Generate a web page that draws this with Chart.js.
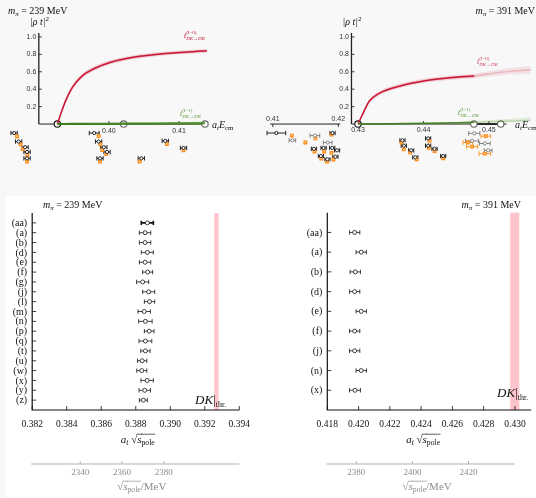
<!DOCTYPE html>
<html>
<head>
<meta charset="utf-8">
<title>DK scattering amplitudes and pole positions</title>
<script src="https://cdn.jsdelivr.net/npm/chart.js@4.4.1/dist/chart.umd.min.js"></script>
<style>
  html, body { margin: 0; padding: 0; background: #f8f8f8; }
  #fig { position: relative; width: 536px; height: 498px; overflow: hidden; background: #f8f8f8; }
  #sheet { position: absolute; left: 6px; top: 196px; width: 530px; height: 302px; background: #ffffff; }
  #fig canvas { position: absolute; }
</style>
</head>
<body>
<div id="fig">
  <div id="sheet"></div>
  <canvas id="ampL" width="262" height="196" style="left:0;top:0;width:262px;height:196px"></canvas>
  <canvas id="ampR" width="278" height="196" style="left:258px;top:0;width:278px;height:196px"></canvas>
  <canvas id="poleL" width="268" height="302" style="left:0;top:196px;width:268px;height:302px"></canvas>
  <canvas id="poleR" width="268" height="302" style="left:268px;top:196px;width:268px;height:302px"></canvas>
</div>
<script>
// ================= m_pi = 239 MeV : |rho t|^2 =================
const ecm239I0  = [0.39265, 0.39319, 0.39388, 0.39479, 0.39616, 0.39799, 0.40027, 0.40347, 0.40804, 0.41397];
const rt239I0   = [0, 0.13, 0.277, 0.42, 0.55, 0.64, 0.71, 0.766, 0.81, 0.84];
const rt239I0Err= [0.004, 0.022, 0.028, 0.028, 0.028, 0.027, 0.025, 0.023, 0.022, 0.022];
const ecm239I1  = [0.39265, 0.395, 0.400, 0.405, 0.410, 0.4137];
const rt239I1   = [0, 0.001, 0.003, 0.005, 0.007, 0.009];
const rt239I1Err= [0, 0.003, 0.005, 0.008, 0.014, 0.02];
const thresholds239 = [0.39265, 0.4021, 0.4137];

// finite-volume energy levels drawn beneath the axis (row = lattice irrep line)
const lev239E   = [0.38648, 0.38712, 0.38804, 0.38832, 0.38832, 0.3979, 0.39853, 0.39927, 0.39973, 0.39873, 0.40462, 0.40804, 0.41064];
const lev239Row = [0, 1.36, 2.27, 3.03, 4.05, 0, 1.36, 2.27, 3.03, 4.05, 4.05, 1.26, 2.38];
const lev239Err = [0.00045, 0.00045, 0.00045, 0.00045, 0.00045, 0.0007, 0.00045, 0.00045, 0.00045, 0.00045, 0.00045, 0.00045, 0.00045];
const fit239E   = [0.38689, 0.3874, 0.38771, 0.38836, 0.38832, 0.39853, 0.39877, 0.39904, 0.39963, 0.39873, 0.40438, 0.40826, 0.41064];
const fit239Row = [0.53, 1.82, 2.58, 3.48, 4.55, 0.5, 1.82, 2.73, 3.38, 4.55, 4.55, 1.77, 2.77];

// ================= m_pi = 391 MeV : |rho t|^2 =================
const ecm391I0  = [0.4300, 0.43071, 0.43169, 0.43316, 0.43659, 0.44003, 0.44394, 0.44776];
const rt391I0   = [0, 0.114, 0.259, 0.35, 0.44, 0.495, 0.53, 0.552];
const rt391I0Err= [0.004, 0.018, 0.024, 0.024, 0.024, 0.024, 0.024, 0.026];
const ecm391I0x = [0.44776, 0.4528, 0.4564];
const rt391I0x  = [0.552, 0.603, 0.622];
const rt391I0xErr = [0.026, 0.038, 0.048];
const ecm391I1  = [0.4300, 0.435, 0.440, 0.445, 0.44776];
const rt391I1   = [0, 0.003, 0.008, 0.014, 0.02];
const rt391I1Err= [0, 0.003, 0.006, 0.01, 0.013];
const ecm391I1x = [0.44776, 0.4528, 0.4564];
const rt391I1x  = [0.02, 0.032, 0.042];
const rt391I1xErr = [0.013, 0.025, 0.035];
const thresholds391 = [0.4300, 0.4477, 0.4518];

// levels in the 0.41 - 0.42 window (broken axis)
const lowLevE   = [0.41054, 0.41912, 0.41628, 0.41775, 0.41907, 0.41981, 0.41735, 0.41834, 0.41956];
const lowLevRow = [0, 0, 2.53, 2.38, 2.38, 2.77, 3.68, 4.2, 3.79];
const lowLevErr = [0.00143, 0.0004, 0.0004, 0.0004, 0.0004, 0.0004, 0.0004, 0.0004, 0.0004];
const lowGreyE  = [0.41299, 0.41643, 0.41838];
const lowGreyRow= [1.17, 0.41, 1.52];
const lowGreyErr= [0.0005, 0.00074, 0.00066];
const lowFitE   = [0.4129, 0.41496, 0.41651, 0.41897, 0.41637, 0.41784, 0.41897, 0.4174, 0.41828, 0.41926];
const lowFitRow = [0.41, 1.52, 0.86, 0.23, 2.95, 2.95, 3.18, 4.09, 4.55, 4.24];
// levels above threshold
const lev391E   = [0.43679, 0.43699, 0.43812, 0.43875, 0.44071, 0.44071, 0.44169, 0.44301];
const lev391Row = [1.17, 2.02, 2.77, 3.89, 0.86, 2.02, 2.53, 3.68];
const lev391Err = [0.0004, 0.0004, 0.0004, 0.0004, 0.0004, 0.0004, 0.0004, 0.0004];
const fit391E   = [0.43665, 0.43699, 0.43797, 0.43894, 0.44091, 0.44081, 0.44169, 0.44301];
const fit391Row = [1.56, 2.62, 3.14, 4.2, 1.26, 2.38, 2.88, 4.05];
const grey391E  = [0.44776, 0.44743, 0.44938, 0.44988];
const grey391Row= [0.05, 1.26, 1.67, 2.77];
const grey391Err= [0.00085, 0.00099, 0.00081, 0.00059];
const high391E  = [0.44953, 0.44679, 0.44743, 0.44938];
const high391Row= [0.5, 1.52, 2.17, 3.29];
const high391Err= [0.00074, 0.00074, 0.00085, 0.00088];

// axis ticks
const rtTicks = [0.2, 0.4, 0.6, 0.8, 1.0];
const ecmTicks239 = [0.40, 0.41];
const ecmTicks391 = [0.43, 0.44, 0.45];
const ecmTicksLow391 = [0.41, 0.42];

// ================= pole positions =================
const poleLabels239 = ['(aa)', '(a)', '(b)', '(d)', '(e)', '(f)', '(g)', '(j)', '(l)', '(m)', '(n)', '(p)', '(q)', '(t)', '(u)', '(w)', '(x)', '(y)', '(z)'];
const pole239    = [0.38867, 0.38854, 0.38854, 0.38867, 0.38854, 0.38869, 0.3884, 0.38875, 0.3888, 0.38849, 0.38856, 0.38878, 0.38856, 0.38856, 0.38837, 0.38835, 0.38866, 0.38852, 0.38844];
const pole239Err = [0.00035, 0.00033, 0.00033, 0.00035, 0.00033, 0.00029, 0.00035, 0.00035, 0.0003, 0.00036, 0.00039, 0.00028, 0.00037, 0.00027, 0.00027, 0.00029, 0.00036, 0.00033, 0.00023];
const dkThr239   = [0.39255, 0.3928];
const poleTicks239 = [0.382, 0.384, 0.386, 0.388, 0.390, 0.392, 0.394];
const mevTicks239  = [2340, 2360, 2380];

const poleLabels391 = ['(aa)', '(a)', '(b)', '(d)', '(e)', '(f)', '(j)', '(n)', '(x)'];
const pole391    = [0.41975, 0.42017, 0.41979, 0.41975, 0.42017, 0.41975, 0.41975, 0.42017, 0.41977];
const pole391Err = [0.00033, 0.00033, 0.00033, 0.00033, 0.00033, 0.00033, 0.00033, 0.00033, 0.00035];
const dkThr391   = [0.4297, 0.43028];
const poleTicks391 = [0.418, 0.420, 0.422, 0.424, 0.426, 0.428, 0.430];
const mevTicks391  = [2380, 2400, 2420];

// ================= drawing helpers =================
const SERIF = '"Liberation Serif", "DejaVu Serif", serif';
const SANS = '"Liberation Sans", "DejaVu Sans", sans-serif';
const RED = '#c8102e', GREEN = '#3d7d1c', ORANGE = '#ff8a12';

// small math-style text: parts {t, i: italic, s: scale, dy: baseline shift, k: stacked on previous, o: overline}
function rich(ctx, x, y, parts, size, align, color) {
  const font = p => (p.i ? 'italic ' : '') + (size * (p.s || 1)).toFixed(2) + 'px ' + (p.f || SERIF);
  let cx = 0, start = 0, width = 0;
  const laid = parts.map(p => {
    ctx.font = font(p);
    const w = ctx.measureText(p.t).width;
    let px;
    if (p.k) { px = start; width = Math.max(width, w); cx = start + width; }
    else { px = cx; start = cx; width = w; cx += w; }
    return { p, px, w };
  });
  const x0 = align === 'center' ? x - cx / 2 : align === 'right' ? x - cx : x;
  ctx.save();
  ctx.fillStyle = color || '#000';
  ctx.strokeStyle = color || '#000';
  ctx.textAlign = 'left';
  ctx.textBaseline = 'alphabetic';
  laid.forEach(({ p, px, w }) => {
    ctx.font = font(p);
    ctx.fillText(p.t, x0 + px, y + (p.dy || 0) * size);
    if (p.o) {
      ctx.lineWidth = Math.max(0.6, size * 0.06);
      ctx.beginPath();
      ctx.moveTo(x0 + px - 0.5, y - size * 0.8);
      ctx.lineTo(x0 + px + w + 0.5, y - size * 0.8);
      ctx.stroke();
    }
  });
  ctx.restore();
}
const mpiText = v => [{ t: 'm', i: 1 }, { t: 'π', i: 1, s: 0.7, dy: 0.22 }, { t: ' = ' + v + ' MeV' }];
const rhoT = [{ t: '|ρ t|', i: 1 }, { t: '2', s: 0.7, dy: -0.42 }];
const aEcm = [{ t: 'a', i: 1 }, { t: 't', i: 1, s: 0.7, dy: 0.22 }, { t: 'E', i: 1 }, { t: 'cm', s: 0.7, dy: 0.22 }];
const ampLabel = iso => [{ t: 't', i: 1 }, { t: '(I=' + iso + ')', s: 0.62, dy: -0.5 }, { t: 'DK→DK', i: 1, s: 0.62, dy: 0.3, k: 1 }];
const aSqrt = [{ t: 'a', i: 1 }, { t: 't', i: 1, s: 0.7, dy: 0.22 }, { t: ' √' }, { t: 's', i: 1, o: 1 }, { t: 'pole', s: 0.7, dy: 0.22, o: 1 }];
const sqrtMeV = [{ t: '√' }, { t: 's', i: 1, o: 1 }, { t: 'pole', s: 0.7, dy: 0.22, o: 1 }, { t: '/MeV' }];
const dkThrText = [{ t: 'DK', i: 1 }, { t: '|' }, { t: 'thr.', s: 0.62, dy: 0.2 }];

const pts = (xs, ys) => xs.map((x, i) => ({ x, y: ys[i] }));
const offset = (xs, ys, es, k) => xs.map((x, i) => ({ x, y: ys[i] + k * es[i] }));

function curve(xs, ys, color, w, xAxisID) {
  return { data: pts(xs, ys), borderColor: color, borderWidth: w, pointRadius: 0, fill: false,
           cubicInterpolationMode: 'monotone', xAxisID: xAxisID || 'x', yAxisID: 'y' };
}
function band(xs, ys, es, up, down, color) {
  return [
    { data: offset(xs, ys, es, up), borderWidth: 0, borderColor: 'rgba(0,0,0,0)', pointRadius: 0, fill: '+1',
      backgroundColor: color, cubicInterpolationMode: 'monotone', xAxisID: 'x', yAxisID: 'y' },
    { data: offset(xs, ys, es, -down), borderWidth: 0, borderColor: 'rgba(0,0,0,0)', pointRadius: 0, fill: false,
      cubicInterpolationMode: 'monotone', xAxisID: 'x', yAxisID: 'y' }
  ];
}
const STYLES = {
  black:  { pointStyle: 'circle', pointRadius: 1.6, borderColor: '#111', pointBackgroundColor: '#fff', pointBorderWidth: 0.9, barColor: '#111' },
  grey:   { pointStyle: 'circle', pointRadius: 1.6, borderColor: '#777', pointBackgroundColor: '#fff', pointBorderWidth: 0.9, barColor: '#777' },
  orange: { pointStyle: 'rect', pointRadius: 1.9, borderColor: ORANGE, pointBackgroundColor: '#ffd4a3', pointBorderWidth: 1.2, barColor: ORANGE }
};
function levels(xs, rows, errs, style, xAxisID) {
  const s = STYLES[style];
  return { data: pts(xs, rows), showLine: false, pointStyle: s.pointStyle, pointRadius: s.pointRadius,
           pointBorderColor: s.borderColor, pointBackgroundColor: s.pointBackgroundColor, pointBorderWidth: s.pointBorderWidth,
           errX: errs, barColor: s.barColor, cap: 2.2, xAxisID: xAxisID || 'x', yAxisID: 'yLev' };
}
function markers(xs, colors) {
  return { data: xs.map(x => ({ x, y: 0 })), showLine: false, pointStyle: 'circle', pointRadius: 3.2,
           pointBorderColor: colors, pointBackgroundColor: '#fff', pointBorderWidth: 1.1, xAxisID: 'x', yAxisID: 'y' };
}

// horizontal error bars, drawn under the markers
const errorBars = {
  id: 'errorBars',
  beforeDatasetsDraw(chart) {
    const ctx = chart.ctx;
    chart.data.datasets.forEach((ds, di) => {
      if (!ds.errX) return;
      const meta = chart.getDatasetMeta(di);
      const xs = chart.scales[ds.xAxisID || 'x'];
      ctx.save();
      ctx.strokeStyle = ds.barColor;
      meta.data.forEach((pt, i) => {
        const e = ds.errX[i];
        if (!e) return;
        const v = ds.data[i].x;
        const x1 = xs.getPixelForValue(v - e), x2 = xs.getPixelForValue(v + e), y = pt.y;
        const c = ds.cap || 2;
        ctx.lineWidth = (ds.barWidths && ds.barWidths[i]) || ds.barWidth || 0.9;
        ctx.beginPath();
        ctx.moveTo(x1, y); ctx.lineTo(x2, y);
        ctx.moveTo(x1, y - c); ctx.lineTo(x1, y + c);
        ctx.moveTo(x2, y - c); ctx.lineTo(x2, y + c);
        ctx.stroke();
      });
      ctx.restore();
    });
  }
};

function baseOptions(scales, padding) {
  return {
    responsive: false, animation: false, events: [],
    layout: { padding },
    plugins: { legend: { display: false }, tooltip: { enabled: false }, title: { display: false } },
    elements: { line: { tension: 0 } },
    scales
  };
}
const hidden = (extra) => Object.assign({ type: 'linear', display: false, grid: { display: false } }, extra);

// ================= upper left: m_pi = 239 MeV =================
const decorAmpL = {
  id: 'decorAmpL',
  beforeDatasetsDraw(chart) {
    const ctx = chart.ctx, X = v => chart.scales.x.getPixelForValue(v), Y = v => chart.scales.y.getPixelForValue(v);
    ctx.save();
    ctx.strokeStyle = '#222';
    ctx.lineWidth = 1.3;
    ctx.beginPath(); ctx.moveTo(X(0.39), Y(0)); ctx.lineTo(X(0.39), Y(1.045)); ctx.stroke();
    ctx.lineWidth = 1;
    ctx.beginPath(); ctx.moveTo(X(0.39), Y(0)); ctx.lineTo(X(thresholds239[2]), Y(0)); ctx.stroke();
    ctx.lineWidth = 0.9;
    rtTicks.forEach(t => { ctx.beginPath(); ctx.moveTo(X(0.39), Y(t)); ctx.lineTo(X(0.39) + 3, Y(t)); ctx.stroke(); });
    ecmTicks239.forEach(t => { ctx.beginPath(); ctx.moveTo(X(t), Y(0)); ctx.lineTo(X(t), Y(0) - 3); ctx.stroke(); });
    ctx.restore();
  },
  afterDraw(chart) {
    const ctx = chart.ctx, X = v => chart.scales.x.getPixelForValue(v), Y = v => chart.scales.y.getPixelForValue(v);
    ctx.save();
    ctx.fillStyle = '#333';
    ctx.font = '7px ' + SANS;
    ctx.textAlign = 'right'; ctx.textBaseline = 'middle';
    rtTicks.forEach(t => ctx.fillText(t.toFixed(1), X(0.39) - 2.5, Y(t)));
    ctx.textAlign = 'center';
    ecmTicks239.forEach(t => ctx.fillText(t.toFixed(2), X(t), Y(0) + 7));
    ctx.restore();
    rich(ctx, 8, 14, mpiText('239'), 10, 'left', '#111');
    rich(ctx, 30, 25, rhoT, 10, 'left', '#111');
    rich(ctx, X(thresholds239[2]) + 7, Y(0) + 3.5, aEcm, 10, 'left', '#111');
    rich(ctx, 184, 38, ampLabel('0'), 8, 'left', RED);
    rich(ctx, 180, 116, ampLabel('1'), 8, 'left', '#5d9c3c');
  }
};

new Chart(document.getElementById('ampL'), {
  type: 'line',
  data: { datasets: [
    ...band(ecm239I0, rt239I0, rt239I0Err, 1, 1, 'rgba(205, 40, 70, 0.17)'),
    ...band(ecm239I0, rt239I0, rt239I0Err, 0.55, 0.55, 'rgba(205, 40, 70, 0.2)'),
    ...band(ecm239I1, rt239I1, rt239I1Err, 1, 0.25, 'rgba(110, 175, 70, 0.35)'),
    curve(ecm239I1, rt239I1, GREEN, 2.2),
    curve(ecm239I0, rt239I0, RED, 1.5),
    markers(thresholds239, ['#111', '#666', '#666']),
    levels(lev239E, lev239Row, lev239Err, 'black'),
    levels(fit239E, fit239Row, fit239E.map(() => 0), 'orange')
  ] },
  options: baseOptions({
    x: hidden({ min: 0.3852055, max: 0.4210959 }),
    y: hidden({ min: -0.76630, max: 1.36413 }),
    yLev: hidden({ axis: 'y', min: -20.4545, max: 9.2424, reverse: true })
  }, 0),
  plugins: [errorBars, decorAmpL]
});

// ================= upper right: m_pi = 391 MeV =================
const decorAmpR = {
  id: 'decorAmpR',
  beforeDatasetsDraw(chart) {
    const ctx = chart.ctx, X = v => chart.scales.x.getPixelForValue(v), XL = v => chart.scales.xLow.getPixelForValue(v),
          Y = v => chart.scales.y.getPixelForValue(v);
    ctx.save();
    ctx.strokeStyle = '#222';
    ctx.lineWidth = 1.3;
    ctx.beginPath(); ctx.moveTo(X(0.429), Y(0)); ctx.lineTo(X(0.429), Y(1.045)); ctx.stroke();
    ctx.lineWidth = 1;
    ctx.beginPath(); ctx.moveTo(X(0.429), Y(0)); ctx.lineTo(X(0.4527), Y(0)); ctx.stroke();
    ctx.lineWidth = 1.8;
    ctx.beginPath(); ctx.moveTo(X(thresholds391[1]), Y(0)); ctx.lineTo(X(thresholds391[2]), Y(0)); ctx.stroke();
    ctx.lineWidth = 1;
    ctx.beginPath(); ctx.moveTo(XL(0.4096), Y(0)); ctx.lineTo(XL(0.4203), Y(0)); ctx.stroke();
    ctx.lineWidth = 0.9;
    rtTicks.forEach(t => { ctx.beginPath(); ctx.moveTo(X(0.429), Y(t)); ctx.lineTo(X(0.429) + 3, Y(t)); ctx.stroke(); });
    ecmTicks391.forEach(t => { ctx.beginPath(); ctx.moveTo(X(t), Y(0)); ctx.lineTo(X(t), Y(0) - 3); ctx.stroke(); });
    ecmTicksLow391.forEach(t => { ctx.beginPath(); ctx.moveTo(XL(t), Y(0)); ctx.lineTo(XL(t), Y(0) + 3); ctx.stroke(); });
    ctx.restore();
  },
  afterDraw(chart) {
    const ctx = chart.ctx, X = v => chart.scales.x.getPixelForValue(v), XL = v => chart.scales.xLow.getPixelForValue(v),
          Y = v => chart.scales.y.getPixelForValue(v);
    ctx.save();
    ctx.fillStyle = '#333';
    ctx.font = '7px ' + SANS;
    ctx.textAlign = 'right'; ctx.textBaseline = 'middle';
    rtTicks.forEach(t => ctx.fillText(t.toFixed(1), X(0.429) - 2.5, Y(t)));
    ctx.textAlign = 'center';
    ecmTicks391.forEach(t => ctx.fillText(t.toFixed(2), X(t), Y(0) + 6.5));
    ecmTicksLow391.forEach(t => ctx.fillText(t.toFixed(2), XL(t), Y(0) - 4.5));
    ctx.restore();
    rich(ctx, 277, 14, mpiText('391'), 10, 'right', '#111');
    rich(ctx, X(0.429) - 9, 25, rhoT, 10, 'left', '#111');
    rich(ctx, 257, Y(0) + 3.5, aEcm, 10, 'left', '#111');
    rich(ctx, 219, 64, ampLabel('0'), 8, 'left', '#d04060');
    rich(ctx, 200, 115, ampLabel('1'), 8, 'left', '#5d9c3c');
  }
};

new Chart(document.getElementById('ampR'), {
  type: 'line',
  data: { datasets: [
    ...band(ecm391I0x, rt391I0x, rt391I0xErr, 1, 1, 'rgba(205, 40, 70, 0.1)'),
    ...band(ecm391I0, rt391I0, rt391I0Err, 1, 1, 'rgba(205, 40, 70, 0.17)'),
    ...band(ecm391I0, rt391I0, rt391I0Err, 0.55, 0.55, 'rgba(205, 40, 70, 0.2)'),
    ...band(ecm391I1x, rt391I1x, rt391I1xErr, 1, 0.3, 'rgba(110, 175, 70, 0.18)'),
    ...band(ecm391I1, rt391I1, rt391I1Err, 1, 0.3, 'rgba(110, 175, 70, 0.3)'),
    curve(ecm391I1x, rt391I1x, 'rgba(61, 125, 28, 0.25)', 1.4),
    curve(ecm391I0x, rt391I0x, 'rgba(200, 16, 46, 0.2)', 1.6),
    curve(ecm391I1, rt391I1, GREEN, 1.5),
    curve(ecm391I0, rt391I0, RED, 1.5),
    markers(thresholds391, ['#111', '#666', '#666']),
    levels(lowGreyE, lowGreyRow, lowGreyErr, 'grey', 'xLow'),
    levels(lowLevE, lowLevRow, lowLevErr, 'black', 'xLow'),
    levels(lowFitE, lowFitRow, lowFitE.map(() => 0), 'orange', 'xLow'),
    levels(lev391E, lev391Row, lev391Err, 'black'),
    levels(fit391E, fit391Row, fit391E.map(() => 0), 'orange'),
    levels(grey391E, grey391Row, grey391Err, 'grey'),
    levels(high391E, high391Row, high391Err, 'orange')
  ] },
  options: baseOptions({
    x: hidden({ min: 0.4155147, max: 0.4563971 }),
    xLow: hidden({ axis: 'x', min: 0.4085294, max: 0.4494118 }),
    y: hidden({ min: -0.76630, max: 1.36413 }),
    yLev: hidden({ axis: 'y', min: -20.4545, max: 9.2424, reverse: true })
  }, 0),
  plugins: [errorBars, decorAmpR]
});

// ================= lower panels: pole positions =================
function poleDecor(cfg) {
  return {
    id: 'poleDecor',
    beforeDatasetsDraw(chart) {
      const ctx = chart.ctx, a = chart.chartArea, X = v => chart.scales.x.getPixelForValue(v);
      ctx.save();
      ctx.fillStyle = 'rgba(255, 145, 160, 0.55)';
      ctx.fillRect(X(cfg.thr[0]), a.top, X(cfg.thr[1]) - X(cfg.thr[0]), a.bottom - a.top);
      ctx.restore();
    },
    afterDraw(chart) {
      const ctx = chart.ctx, a = chart.chartArea, X = v => chart.scales.x.getPixelForValue(v),
            Y = v => chart.scales.y.getPixelForValue(v), XM = v => chart.scales.xMeV.getPixelForValue(v);
      ctx.save();
      ctx.strokeStyle = '#111';
      ctx.lineWidth = 1.2;
      ctx.beginPath();
      ctx.moveTo(a.left, a.top); ctx.lineTo(a.left, a.bottom); ctx.lineTo(a.right, a.bottom);
      ctx.stroke();
      ctx.lineWidth = 0.8;
      cfg.ticks.forEach(t => { ctx.beginPath(); ctx.moveTo(X(t), a.bottom); ctx.lineTo(X(t), a.bottom - 4); ctx.stroke(); });
      cfg.labels.forEach((l, i) => { ctx.beginPath(); ctx.moveTo(a.left, Y(i)); ctx.lineTo(a.left + 4, Y(i)); ctx.stroke(); });
      ctx.fillStyle = '#111';
      ctx.font = '9.5px ' + SERIF;
      ctx.textAlign = 'center'; ctx.textBaseline = 'middle';
      cfg.ticks.forEach(t => ctx.fillText(t.toFixed(3), X(t), a.bottom + 14));
      ctx.font = '10px ' + SERIF;
      ctx.textAlign = 'right';
      cfg.labels.forEach((l, i) => ctx.fillText(l, a.left - 5, Y(i) + 0.5));
      // secondary axis in MeV
      const ly = a.bottom + 54;
      ctx.strokeStyle = '#a8a8a8';
      ctx.lineWidth = 0.9;
      ctx.beginPath(); ctx.moveTo(a.left - 1, ly); ctx.lineTo(X(cfg.ticks[cfg.ticks.length - 1]), ly); ctx.stroke();
      cfg.mev.forEach(m => { ctx.beginPath(); ctx.moveTo(XM(m), ly); ctx.lineTo(XM(m), ly - 3); ctx.stroke(); });
      ctx.fillStyle = '#8c8c8c';
      ctx.font = '9px ' + SERIF;
      ctx.textAlign = 'center';
      cfg.mev.forEach(m => ctx.fillText(String(m), XM(m), ly + 9));
      ctx.restore();
      const mid = (a.left + X(cfg.ticks[cfg.ticks.length - 1])) / 2;
      rich(ctx, mid + 2, a.bottom + 33, aSqrt, 11, 'center', '#111');
      rich(ctx, mid + 6, a.bottom + 80, sqrtMeV, 11, 'center', '#8c8c8c');
      rich(ctx, cfg.titleX, 12, mpiText(cfg.mpi), 10, cfg.titleAlign, '#111');
      rich(ctx, cfg.thrX, cfg.thrY, dkThrText, 13, 'left', '#111');
    }
  };
}

function poleChart(id, labels, vals, errs, thr, ticks, mev, mevRange, padding, cfg) {
  const rows = labels.map((l, i) => i);
  new Chart(document.getElementById(id), {
    type: 'line',
    data: { datasets: [{
      data: pts(vals, rows), showLine: false, pointStyle: 'circle', pointRadius: 2,
      pointBorderColor: '#111', pointBackgroundColor: '#fff', pointBorderWidth: 0.8,
      errX: errs, barColor: '#111', barWidths: cfg.barWidths, barWidth: 0.8, cap: 2.2
    }] },
    options: baseOptions({
      x: hidden({ min: ticks[0], max: cfg.xMax }),
      xMeV: hidden({ axis: 'x', min: mevRange[0], max: mevRange[1] }),
      y: hidden({ min: -1, max: labels.length, reverse: true })
    }, padding),
    plugins: [errorBars, poleDecor(Object.assign({ thr, ticks, labels, mev }, cfg))]
  });
}

poleChart('poleL', poleLabels239, pole239, pole239Err, dkThr239, poleTicks239, mevTicks239, [2317.0, 2416.1],
  { left: 32.2, right: 28.7, top: 17, bottom: 88 },
  { xMax: 0.394, mpi: '239', titleX: 43, titleAlign: 'left', thrX: 195, thrY: 208,
    barWidths: poleLabels239.map((l, i) => i === 0 ? 1.6 : 0.8) });

poleChart('poleR', poleLabels391, pole391, pole391Err, dkThr391, poleTicks391, mevTicks391, [2369.65, 2442.37],
  { left: 59.3, right: 0, top: 16.7, bottom: 88 },
  { xMax: 0.43104, mpi: '391', titleX: 253, titleAlign: 'right', thrX: 229, thrY: 201 });
</script>
</body>
</html>
